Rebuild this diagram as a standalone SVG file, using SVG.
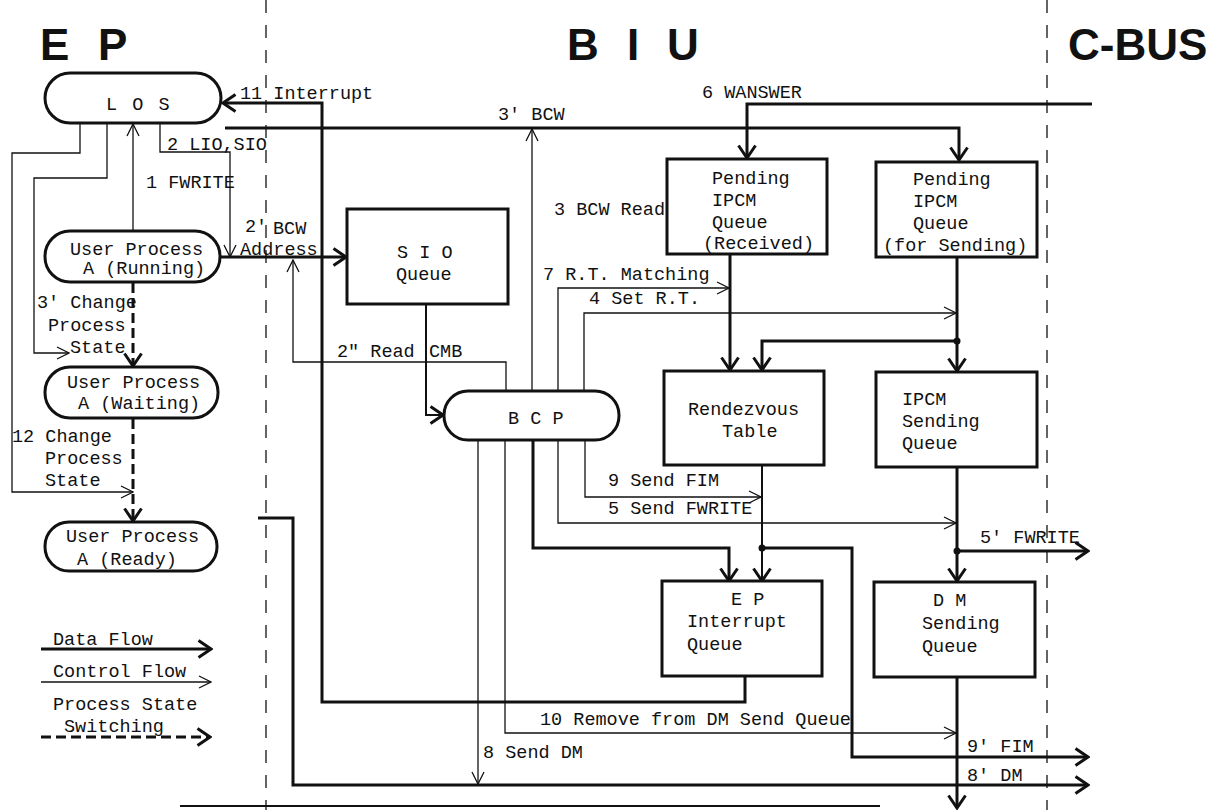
<svg xmlns="http://www.w3.org/2000/svg" width="1217" height="810" viewBox="0 0 1217 810">
<style>
text{font-family:"Liberation Mono","Courier New",monospace;font-size:18.5px;fill:#111}
.hdr{font-family:"Liberation Sans",Arial,sans-serif;font-weight:bold;font-size:44px}
.box{fill:#fff;stroke:#111;stroke-width:3}
.thin{fill:none;stroke:#111;stroke-width:1.3}
.thick{fill:none;stroke:#111;stroke-width:3}
.med{fill:none;stroke:#111;stroke-width:2}
.dash{fill:none;stroke:#111;stroke-width:3;stroke-dasharray:10 5}
.sep{fill:none;stroke:#111;stroke-width:1.3;stroke-dasharray:13 12}
</style>
<defs>
<marker id="at" viewBox="0 0 14 14" refX="13" refY="7" markerWidth="14" markerHeight="14" markerUnits="userSpaceOnUse" orient="auto">
<path d="M1,1 L13,7 L1,13" fill="none" stroke="#111" stroke-width="1.3"/>
</marker>
<marker id="ak" viewBox="0 0 16 20" refX="14" refY="10" markerWidth="16" markerHeight="20" markerUnits="userSpaceOnUse" orient="auto">
<path d="M1.5,1.5 L14,10 L1.5,18.5" fill="none" stroke="#111" stroke-width="3"/>
</marker>
</defs>

<g id="separators">
<line class="sep" x1="266" y1="0" x2="266" y2="810"/>
<line class="sep" x1="1047" y1="0" x2="1047" y2="810"/>
</g>

<g id="headers">
<text class="hdr" x="40" y="60">E</text>
<text class="hdr" x="98" y="60">P</text>
<text class="hdr" x="567" y="60">B</text>
<text class="hdr" x="627" y="60">I</text>
<text class="hdr" x="667" y="60">U</text>
<text class="hdr" x="1068" y="60">C-BUS</text>
</g>

<g id="connectors">
<!-- control flows -->
<path class="thin" d="M133,231 V124" marker-end="url(#at)"/>
<path class="thin" d="M160,123 V152 H230 V257" marker-end="url(#at)"/>
<path class="thin" d="M107,123 V178 H34 V353 H69" marker-end="url(#at)"/>
<path class="thin" d="M80,123 V153 H12 V492 H133" marker-end="url(#at)"/>
<path class="thin" d="M506,391 V362 H293 V260" marker-end="url(#at)"/>
<path class="thin" d="M532,391 V129" marker-end="url(#at)"/>
<path class="thin" d="M558,391 V288 H729" marker-end="url(#at)"/>
<path class="thin" d="M584,391 V313 H956" marker-end="url(#at)"/>
<path class="thin" d="M585,440 V497 H761" marker-end="url(#at)"/>
<path class="thin" d="M558,440 V523 H956" marker-end="url(#at)"/>
<path class="thin" d="M505,440 V733 H956" marker-end="url(#at)"/>
<path class="thin" d="M478,440 V784" marker-end="url(#at)"/>
<!-- data flows -->
<path class="thick" d="M745,676 V702 H322 V103 H223" marker-end="url(#ak)"/>
<path class="thick" d="M225,128 H959 V160" marker-end="url(#ak)"/>
<path class="thick" d="M1092,104 H747 V158" marker-end="url(#ak)"/>
<path class="thick" d="M220,257 H346" marker-end="url(#ak)"/>
<path class="med" d="M426,304 V415 H443" marker-end="url(#ak)"/>
<path class="thick" d="M730,254 V370" marker-end="url(#ak)"/>
<path class="thick" d="M957,257 V371" marker-end="url(#ak)"/>
<path class="thick" d="M957,341 H762 V370" marker-end="url(#ak)"/>
<path class="thick" d="M957,467 V581" marker-end="url(#ak)"/>
<path class="thick" d="M957,551 H1088" marker-end="url(#ak)"/>
<path class="thick" d="M533,440 V548 H729 V581" marker-end="url(#ak)"/>
<path class="med" d="M762,465 V581" marker-end="url(#ak)"/>
<path class="thick" d="M762,548 H852 V757 H1088" marker-end="url(#ak)"/>
<path class="thick" d="M957,677 V808" marker-end="url(#ak)"/>
<path class="thick" d="M258,518 H293 V785 H1088" marker-end="url(#ak)"/>
<path class="med" d="M180,806 H880"/>
<!-- process state switching -->
<path class="dash" d="M133,283 V366" marker-end="url(#ak)"/>
<path class="dash" d="M133,419 V521" marker-end="url(#ak)"/>
<!-- junction dots -->
<circle cx="957" cy="341" r="3.5" fill="#111"/>
<circle cx="957" cy="551" r="3.5" fill="#111"/>
<circle cx="762" cy="548" r="3.5" fill="#111"/>
</g>

<g id="connector-labels">
<text x="240" y="99">11 Interrupt</text>
<text x="498" y="120">3' BCW</text>
<text x="702" y="98">6 WANSWER</text>
<text x="167" y="150">2 LIO,SIO</text>
<text x="146" y="188">1 FWRITE</text>
<text x="245" y="232">2'</text>
<text x="273" y="234">BCW</text>
<text x="240" y="255">Address</text>
<text x="37" y="308">3' Change</text>
<text x="48" y="331">Process</text>
<text x="70" y="353">State</text>
<text x="12" y="442">12 Change</text>
<text x="45" y="464">Process</text>
<text x="45" y="486">State</text>
<text x="554" y="215">3 BCW Read</text>
<text x="543" y="280">7 R.T. Matching</text>
<text x="589" y="304">4 Set R.T.</text>
<text x="337" y="357">2" Read</text>
<text x="429" y="357">CMB</text>
<text x="608" y="486">9 Send FIM</text>
<text x="608" y="514">5 Send FWRITE</text>
<text x="980" y="543">5' FWRITE</text>
<text x="540" y="725">10 Remove from DM Send Queue</text>
<text x="483" y="758">8 Send DM</text>
<text x="967" y="752">9' FIM</text>
<text x="967" y="781">8' DM</text>
</g>

<g id="LOS">
<rect class="box" x="45" y="73" width="176" height="50" rx="25"/>
<text x="106" y="110" letter-spacing="2">L O S</text>
</g>
<g id="running">
<rect class="box" x="45" y="231" width="175" height="51" rx="25"/>
<text x="70" y="255">User Process</text>
<text x="83" y="274">A (Running)</text>
</g>
<g id="waiting">
<rect class="box" x="45" y="367" width="173" height="51" rx="25"/>
<text x="67" y="388">User Process</text>
<text x="78" y="409">A (Waiting)</text>
</g>
<g id="ready">
<rect class="box" x="45" y="522" width="172" height="49" rx="24"/>
<text x="66" y="542">User Process</text>
<text x="77" y="565">A (Ready)</text>
</g>
<g id="sio">
<rect class="box" x="347" y="209" width="161" height="95"/>
<text x="397" y="258">S I O</text>
<text x="396" y="280">Queue</text>
</g>
<g id="bcp">
<rect class="box" x="444" y="391" width="175" height="49" rx="24"/>
<text x="508" y="424">B C P</text>
</g>
<g id="pending-received">
<rect class="box" x="667" y="159" width="160" height="95"/>
<text x="712" y="184">Pending</text>
<text x="712" y="206">IPCM</text>
<text x="712" y="228">Queue</text>
<text x="703" y="249">(Received)</text>
</g>
<g id="pending-sending">
<rect class="box" x="876" y="162" width="161" height="95"/>
<text x="913" y="185">Pending</text>
<text x="913" y="207">IPCM</text>
<text x="913" y="229">Queue</text>
<text x="883" y="251">(for Sending)</text>
</g>
<g id="rendezvous">
<rect class="box" x="664" y="371" width="160" height="94"/>
<text x="688" y="415">Rendezvous</text>
<text x="722" y="437">Table</text>
</g>
<g id="ipcm-sending">
<rect class="box" x="876" y="372" width="161" height="95"/>
<text x="902" y="405">IPCM</text>
<text x="902" y="427">Sending</text>
<text x="902" y="449">Queue</text>
</g>
<g id="ep-interrupt">
<rect class="box" x="662" y="581" width="160" height="95"/>
<text x="731" y="605">E P</text>
<text x="687" y="627">Interrupt</text>
<text x="687" y="650">Queue</text>
</g>
<g id="dm-sending">
<rect class="box" x="874" y="582" width="161" height="95"/>
<text x="933" y="606">D M</text>
<text x="922" y="629">Sending</text>
<text x="922" y="652">Queue</text>
</g>

<g id="legend">
<line class="thick" x1="41" y1="649" x2="211" y2="649" marker-end="url(#ak)"/>
<text x="53" y="645">Data Flow</text>
<line class="thin" x1="41" y1="682" x2="211" y2="682" marker-end="url(#at)"/>
<text x="53" y="677">Control Flow</text>
<text x="53" y="710">Process State</text>
<text x="64" y="732">Switching</text>
<line class="dash" x1="41" y1="737" x2="210" y2="737" marker-end="url(#ak)"/>
</g>
</svg>
